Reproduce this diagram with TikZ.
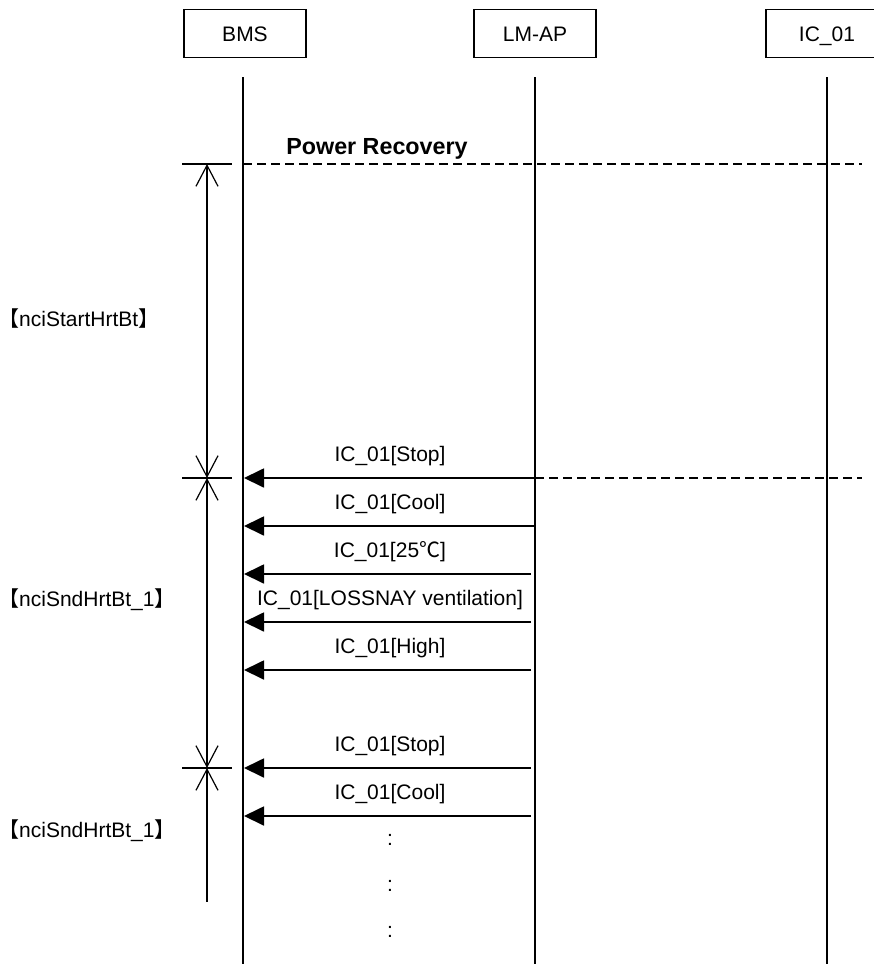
\documentclass[tikz,border=0pt]{standalone}
\usepackage{fontspec}
\setmainfont{Liberation Sans}
\newfontfamily\cjk{Noto Sans CJK JP}
\usetikzlibrary{arrows.meta}
\begin{document}
\begin{tikzpicture}[x=1pt,y=-1pt,
  txt/.style={font=\fontsize{21}{24}\selectfont, inner sep=0pt},
  btxt/.style={font=\fontsize{23.3}{26}\selectfont\bfseries, inner sep=0pt},
  actor/.style={draw, line width=1.3pt, minimum width=122pt, minimum height=48pt,
    inner sep=0pt, text height=15pt, text depth=0pt, font=\fontsize{21}{24}\selectfont},
  life/.style={line width=1.8pt},
  msg/.style={line width=1.8pt, -{Triangle[length=20pt,width=19pt]}},
  sepline/.style={line width=1.5pt, dash pattern=on 9pt off 5pt},
  dimline/.style={line width=1.2pt},
  barb/.tip={Straight Barb[length=21pt,width=22pt]},
]
\useasboundingbox (0,0) rectangle (874,964);
\clip (0,0) rectangle (874,964);

% actors
\node[actor] (bms) at (245,33.5) {BMS};
\node[actor] (lmap) at (535,33.5) {LM-AP};
\node[actor] (ic) at (827,33.5) {IC\_01};

% lifelines
\coordinate (bmsT) at (243,77);  \coordinate (bmsB) at (243,964);
\coordinate (lmT) at (535,77);   \coordinate (lmB) at (535,964);
\coordinate (icT) at (827,77);   \coordinate (icB) at (827,964);
\draw[life] (bmsT) -- (bmsB);
\draw[life] (lmT) -- (lmB);
\draw[life] (icT) -- (icB);

% power recovery
\node[btxt, anchor=base] (pr) at (377,154) {Power Recovery};
\coordinate (prA) at (243,164); \coordinate (prB) at (862,164);
\draw[sepline] (prA) -- (prB);
\coordinate (sepA) at (535,478); \coordinate (sepB) at (862,478);
\draw[sepline] (sepA) -- (sepB);

% messages
\foreach \n/\y/\xr in {m1/478/535, m2/526/535, m3/574/531, m4/622/531, m5/670/531, m6/768/531, m7/816/531}{
  \coordinate (\n R) at (\xr,\y);
  \coordinate (\n L) at (244,\y);
  \draw[msg] (\n R) -- (\n L);
}
\node[txt, anchor=base] (l1) at (390,461) {IC\_01[Stop]};
\node[txt, anchor=base] (l2) at (390,509) {IC\_01[Cool]};
\node[txt, anchor=base] (l3) at (390,557) {IC\_01[25{\cjk ℃}]};
\node[txt, anchor=base] (l4) at (390,605) {IC\_01[LOSSNAY ventilation]};
\node[txt, anchor=base] (l5) at (390,653) {IC\_01[High]};
\node[txt, anchor=base] (l6) at (390,751) {IC\_01[Stop]};
\node[txt, anchor=base] (l7) at (390,799) {IC\_01[Cool]};
\node[txt] (c1) at (390,840) {:};
\node[txt] (c2) at (390,886) {:};
\node[txt] (c3) at (390,932) {:};

% dimension marks
\coordinate (d0) at (207,164);
\coordinate (d1) at (207,478);
\coordinate (d2) at (207,768);
\coordinate (d3) at (207,902);
\foreach \y/\n in {164/a, 478/b, 768/c}{
  \coordinate (tk\n L) at (182,\y);
  \coordinate (tk\n R) at (232,\y);
  \draw[dimline] (tk\n L) -- (tk\n R);
}
\draw[dimline, barb-barb] (d0) -- (d1);
\draw[dimline, barb-barb] (d1) -- (d2);
\draw[dimline, barb-] (d2) -- (d3);

\node[txt, anchor=base west] (g1) at (-2,326) {{\cjk 【}nciStartHrtBt{\cjk 】}};
\node[txt, anchor=base west] (g2) at (-2,606) {{\cjk 【}nciSndHrtBt\_1{\cjk 】}};
\node[txt, anchor=base west] (g3) at (-2,837) {{\cjk 【}nciSndHrtBt\_1{\cjk 】}};
\end{tikzpicture}
\end{document}
